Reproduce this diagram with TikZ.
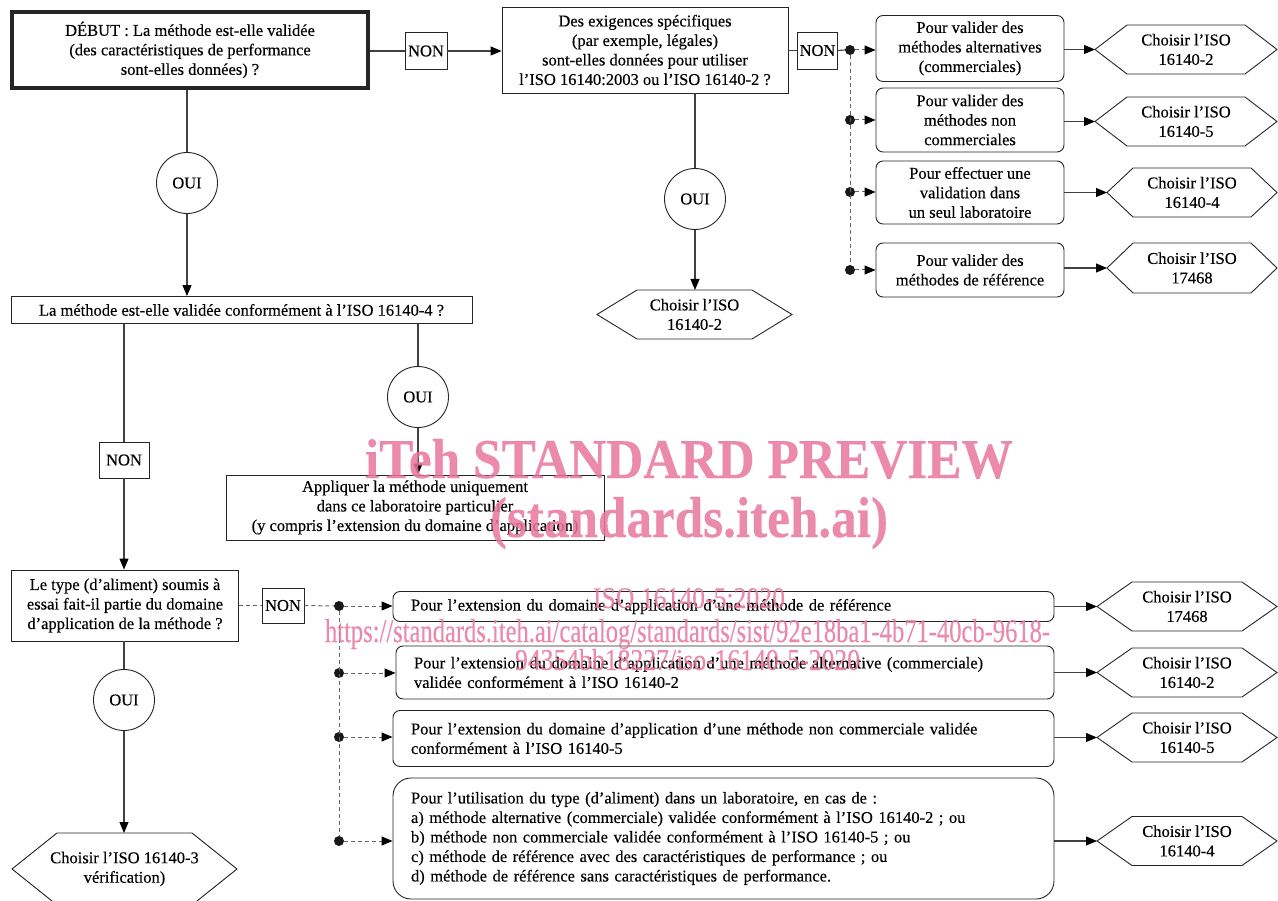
\documentclass[tikz,border=0pt]{standalone}
\usepackage{fontspec}
\setmainfont{Liberation Serif}[FakeBold=0.3]
\usepackage{graphicx}
\usetikzlibrary{arrows.meta}
\newcommand{\diagfont}{\fontsize{16.5}{19.5}\selectfont}
\definecolor{wm}{RGB}{232,118,156}
\begin{document}
\begin{tikzpicture}[x=1pt,y=-1pt,
  every node/.style={font=\diagfont, text=black},
  box/.style={draw=black!85, line width=0.9pt, inner sep=0pt, align=center},
  startbox/.style={box, line width=4pt},
  rbox/.style={box, rounded corners=7pt},
  wbox/.style={draw=black!85, line width=0.9pt, rounded corners=7pt, inner ysep=0pt, inner xsep=18pt, align=left},
  hexa/.style={inner sep=0pt, outer sep=0pt, align=center},
  hexline/.style={draw=black!85, line width=0.9pt, line join=miter},
  oui/.style={circle, draw=black!85, line width=0.9pt, minimum size=61pt, inner sep=0pt},
  non/.style={box, minimum width=41pt, minimum height=36pt},
  jdot/.style={circle, fill=black!90, inner sep=0pt, minimum size=10pt},
  ln/.style={draw=black!75, line width=1.1pt},
  arr/.style={ln, -{Triangle[length=11pt,width=9pt,fill=black,color=black]}},
  dashln/.style={draw=black!60, line width=1pt, dash pattern=on 4pt off 3pt},
  darr/.style={dashln, -{Triangle[length=11pt,width=9pt,fill=black,color=black]}},
  wmark/.style={text=wm, text opacity=0.85, inner sep=0pt, anchor=base}
]
\clip (0,0) rectangle (1278,901);
\useasboundingbox (0,0) rectangle (1278,901);

% ---- top row ----
\node[startbox, minimum width=356pt, minimum height=76pt] (start) at (190,50)
  {DÉBUT : La méthode est-elle validée\\(des caractéristiques de performance\\sont-elles données) ?};
\node[non, minimum width=42pt, minimum height=37pt] (non1) at (426,51) {NON};
\node[box, minimum width=286pt, minimum height=86pt] (q2) at (645,50)
  {Des exigences spécifiques\\(par exemple, légales)\\sont-elles données pour utiliser\\l'ISO 16140:2003 ou l'ISO 16140-2 ?};
\node[non, minimum width=40pt, minimum height=37pt] (non2) at (817.5,50.5) {NON};

\node[jdot] (d1) at (850,50) {};
\node[jdot] (d2) at (850,120) {};
\node[jdot] (d3) at (850,192) {};
\node[jdot] (d4) at (850,270) {};

\node[rbox, minimum width=188pt, minimum height=66pt] (ra) at (970,48.5)
  {Pour valider des\\méthodes alternatives\\(commerciales)};
\node[rbox, minimum width=188pt, minimum height=64pt] (rb) at (970,120)
  {Pour valider des\\méthodes non\\commerciales};
\node[rbox, minimum width=188pt, minimum height=63pt] (rc) at (970,192.5)
  {Pour effectuer une\\validation dans\\un seul laboratoire};
\node[rbox, minimum width=188pt, minimum height=54pt] (rd) at (970,270)
  {Pour valider des\\méthodes de référence};

\node[hexa, minimum width=182pt, minimum height=49pt] (ha) at (1186,49.5) {Choisir l'ISO\\16140-2};
\node[hexa, minimum width=182pt, minimum height=49pt] (hb) at (1186,121.5) {Choisir l'ISO\\16140-5};
\node[hexa, minimum width=170pt, minimum height=49pt] (hc) at (1192,192.5) {Choisir l'ISO\\16140-4};
\node[hexa, minimum width=170pt, minimum height=50pt] (hd) at (1192,268) {Choisir l'ISO\\17468};

% ---- middle ----
\node[oui] (oui1) at (187,183) {OUI};
\node[box, minimum width=461pt, minimum height=27pt] (q3) at (241.5,310)
  {La méthode est-elle validée conformément à l'ISO 16140-4 ?};
\node[oui] (oui2) at (695,199) {OUI};
\node[hexa, minimum width=195pt, minimum height=49pt] (hm) at (694.5,314.5) {Choisir l'ISO\\16140-2};

\node[non, minimum width=50pt, minimum height=36pt] (non3) at (124,460) {NON};
\node[oui] (oui3) at (418,397) {OUI};
\node[box, minimum width=378pt, minimum height=65pt] (apply) at (415,507.5)
  {Appliquer la méthode uniquement\\dans ce laboratoire particulier\\(y compris l'extension du domaine d'application)};

% ---- bottom ----
\node[box, minimum width=227pt, minimum height=71pt] (q5) at (125,605.5)
  {Le type (d'aliment) soumis à\\essai fait-il partie du domaine\\d'application de la méthode ?};
\node[non, minimum width=42pt, minimum height=35pt] (non4) at (283,605.5) {NON};
\node[oui] (oui4) at (124,700) {OUI};
\node[hexa, minimum width=225pt, minimum height=72pt] (hl) at (124.5,869) {Choisir l'ISO 16140-3\\vérification)};

\node[jdot] (e1) at (339,606) {};
\node[jdot] (e2) at (339,673) {};
\node[jdot] (e3) at (339,737) {};
\node[jdot] (e4) at (339,841) {};

\node[wbox, text width=625pt, minimum height=30pt] (be) at (723.5,606.5)
  {Pour l'extension du domaine d'application d'une méthode de référence};
\node[wbox, text width=622pt, minimum height=53pt] (bf) at (725,672.5)
  {Pour l'extension du domaine d'application d'une méthode alternative (commerciale)\\validée conformément à l'ISO 16140-2};
\node[wbox, text width=625pt, minimum height=56pt] (bg) at (723.5,738.5)
  {Pour l'extension du domaine d'application d'une méthode non commerciale validée\\conformément à l'ISO 16140-5};
\node[wbox, rounded corners=18pt, text width=625pt, minimum height=121pt] (bh) at (723.5,838.5)
  {Pour l'utilisation du type (d'aliment) dans un laboratoire, en cas de :\\
   a) méthode alternative (commerciale) validée conformément à l'ISO 16140-2 ; ou\\
   b) méthode non commerciale validée conformément à l'ISO 16140-5 ; ou\\
   c) méthode de référence avec des caractéristiques de performance ; ou\\
   d) méthode de référence sans caractéristiques de performance.};

\node[hexa, minimum width=180pt, minimum height=49pt] (he) at (1187,606.5) {Choisir l'ISO\\17468};
\node[hexa, minimum width=180pt, minimum height=49pt] (hf) at (1187,672.5) {Choisir l'ISO\\16140-2};
\node[hexa, minimum width=180pt, minimum height=49pt] (hg) at (1187,737.5) {Choisir l'ISO\\16140-5};
\node[hexa, minimum width=180pt, minimum height=49pt] (hh) at (1187,841) {Choisir l'ISO\\16140-4};

% hexagon outlines
\foreach \n/\i in {ha/32,hb/32,hc/26,hd/26,hm/40,he/35,hf/35,hg/35,hh/35,hl/45}
  \draw[hexline] (\n.west) -- ([xshift=\i pt]\n.north west) -- ([xshift=-\i pt]\n.north east)
    -- (\n.east) -- ([xshift=-\i pt]\n.south east) -- ([xshift=\i pt]\n.south west) -- cycle;

% ---- connectors ----
\draw[ln] (start.east |- non1.west) -- (non1.west);
\draw[arr] (non1.east) -- (non1.east -| q2.west);
\draw[ln] (q2.east |- non2.west) -- (non2.west);
\draw[ln] (non2.east) -- (d1.west);
\draw[dashln] (d1) -- (d4);
\foreach \d/\b in {d1/ra,d2/rb,d3/rc,d4/rd}
  \draw[darr] (\d.east) -- (\d -| \b.west);
\draw[arr] (ha.west -| ra.east) -- (ha.west);
\draw[arr] (hb.west -| rb.east) -- (hb.west);
\draw[arr] (hc.west -| rc.east) -- (hc.west);
\draw[arr] (hd.west -| rd.east) -- (hd.west);

\draw[ln] (oui1 |- start.south) -- (oui1.north);
\draw[arr] (oui1.south) -- (oui1 |- q3.north);
\draw[ln] (oui2 |- q2.south) -- (oui2.north);
\draw[arr] (oui2.south) -- (oui2 |- hm.north);

\draw[ln] (non3 |- q3.south) -- (non3.north);
\draw[arr] (non3.south) -- (non3 |- q5.north);
\draw[ln] (oui3 |- q3.south) -- (oui3.north);
\draw[arr] (oui3.south) -- (oui3 |- apply.north);

\draw[dashln] (q5.east |- non4.west) -- (non4.west);
\draw[dashln] (non4.east) -- (e1.west);
\draw[dashln] (e1) -- (e4);
\foreach \d/\b in {e1/be,e2/bf,e3/bg,e4/bh}
  \draw[darr] (\d.east) -- (\d -| \b.west);
\draw[arr] (he.west -| be.east) -- (he.west);
\draw[arr] (hf.west -| bf.east) -- (hf.west);
\draw[arr] (hg.west -| bg.east) -- (hg.west);
\draw[arr] (hh.west -| bh.east) -- (hh.west);

\draw[ln] (oui4 |- q5.south) -- (oui4.north);
\draw[arr] (oui4.south) -- (oui4 |- hl.north);

% ---- watermark ----
\node[wmark] (w1) at (689,478) {\resizebox{648pt}{39pt}{\bfseries iTeh STANDARD PREVIEW}};
\node[wmark] (w2) at (689,537) {\resizebox{398pt}{40pt}{\bfseries (standards.iteh.ai)}};
\node[wmark] (w3) at (689,608) {\resizebox{192pt}{20pt}{ISO 16140-5:2020}};
\node[wmark] (w4) at (687.5,642) {\resizebox{725pt}{23pt}{https://standards.iteh.ai/catalog/standards/sist/92e18ba1-4b71-40cb-9618-}};
\node[wmark] (w5) at (687.5,670) {\resizebox{345pt}{21pt}{94354bb18227/iso-16140-5-2020}};
\end{tikzpicture}
\end{document}
